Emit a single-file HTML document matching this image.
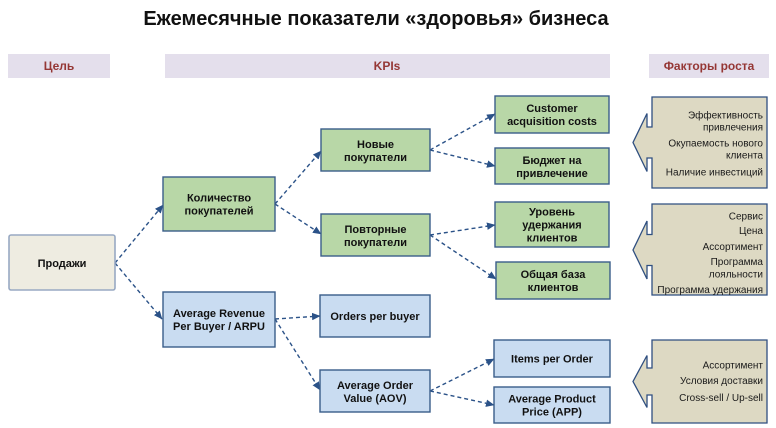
<!DOCTYPE html>
<html>
<head>
<meta charset="utf-8">
<style>
  html,body{margin:0;padding:0;background:#fff;}
  svg{display:block;}
  .t{font-family:"Liberation Sans",Arial,sans-serif;}
  .bx{font-family:"Liberation Sans",Arial,sans-serif;font-weight:bold;font-size:11px;fill:#111;text-anchor:middle;}
  .hd{font-family:"Liberation Sans",Arial,sans-serif;font-weight:bold;font-size:12px;fill:#953735;text-anchor:middle;}
  .co{font-family:"Liberation Sans",Arial,sans-serif;font-size:10px;fill:#1a1a1a;text-anchor:end;}
  .g{fill:#b8d7a7;stroke:#3a5d8a;stroke-width:1.4;}
  .b{fill:#c9dcf1;stroke:#3a5d8a;stroke-width:1.4;}
  .ln{stroke:#2b5288;stroke-width:1.4;stroke-dasharray:4 3;fill:none;marker-end:url(#ah);}
  .cl{fill:#ddd9c3;stroke:#2f4f80;stroke-width:1.3;}
</style>
</head>
<body>
<svg width="776" height="428" viewBox="0 0 776 428" xmlns="http://www.w3.org/2000/svg">
  <defs>
    <marker id="ah" markerUnits="userSpaceOnUse" markerWidth="9" markerHeight="8" refX="8" refY="3.75" orient="auto">
      <path d="M0,0 L8.5,3.75 L0,7.5 Z" fill="#2b5288"/>
    </marker>
  </defs>
  <rect x="0" y="0" width="776" height="428" fill="#fff"/>

  <!-- Title -->
  <text class="t" x="376" y="25" font-size="20" font-weight="bold" text-anchor="middle" fill="#111">Ежемесячные показатели «здоровья» бизнеса</text>

  <!-- Header bars -->
  <rect x="8" y="54" width="102" height="24" fill="#e4dfec"/>
  <text class="hd" x="59" y="70">Цель</text>
  <rect x="165" y="54" width="445" height="24" fill="#e4dfec"/>
  <text class="hd" x="387" y="70">KPIs</text>
  <rect x="649" y="54" width="120" height="24" fill="#e4dfec"/>
  <text class="hd" x="709" y="70">Факторы роста</text>

  <!-- Connectors -->
  <line class="ln" x1="115" y1="263" x2="163" y2="205"/>
  <line class="ln" x1="115" y1="263" x2="162" y2="319"/>
  <line class="ln" x1="275" y1="204" x2="321" y2="151"/>
  <line class="ln" x1="275" y1="204" x2="321" y2="234"/>
  <line class="ln" x1="430" y1="150" x2="495" y2="114"/>
  <line class="ln" x1="430" y1="150" x2="495" y2="166"/>
  <line class="ln" x1="430" y1="235" x2="495" y2="225"/>
  <line class="ln" x1="430" y1="235" x2="496" y2="279"/>
  <line class="ln" x1="275" y1="319" x2="320" y2="316"/>
  <line class="ln" x1="275" y1="319" x2="320" y2="390"/>
  <line class="ln" x1="430" y1="391" x2="494" y2="359"/>
  <line class="ln" x1="430" y1="391" x2="494" y2="405"/>

  <!-- Продажи -->
  <rect x="9" y="235" width="106" height="55" rx="2" fill="#eeece1" stroke="#98a9c3" stroke-width="1.6"/>
  <text class="bx" x="62" y="267">Продажи</text>

  <!-- Level 1 -->
  <rect class="g" x="163" y="177" width="112" height="54"/>
  <text class="bx" x="219" y="201.5">Количество</text>
  <text class="bx" x="219" y="214.5">покупателей</text>

  <rect class="b" x="163" y="292" width="112" height="55"/>
  <text class="bx" x="219" y="317">Average Revenue</text>
  <text class="bx" x="219" y="330">Per Buyer / ARPU</text>

  <!-- Level 2 -->
  <rect class="g" x="321" y="129" width="109" height="42"/>
  <text class="bx" x="375.5" y="148">Новые</text>
  <text class="bx" x="375.5" y="161">покупатели</text>

  <rect class="g" x="321" y="214" width="109" height="42"/>
  <text class="bx" x="375.5" y="233">Повторные</text>
  <text class="bx" x="375.5" y="246">покупатели</text>

  <rect class="b" x="320" y="295" width="110" height="42"/>
  <text class="bx" x="375" y="320">Orders per buyer</text>

  <rect class="b" x="320" y="370" width="110" height="42"/>
  <text class="bx" x="375" y="389">Average Order</text>
  <text class="bx" x="375" y="402">Value (AOV)</text>

  <!-- Level 3 -->
  <rect class="g" x="495" y="96" width="114" height="37"/>
  <text class="bx" x="552" y="112">Customer</text>
  <text class="bx" x="552" y="125">acquisition costs</text>

  <rect class="g" x="495" y="148" width="114" height="36"/>
  <text class="bx" x="552" y="164">Бюджет на</text>
  <text class="bx" x="552" y="177">привлечение</text>

  <rect class="g" x="495" y="202" width="114" height="45"/>
  <text class="bx" x="552" y="215.5">Уровень</text>
  <text class="bx" x="552" y="228.5">удержания</text>
  <text class="bx" x="552" y="241.5">клиентов</text>

  <rect class="g" x="496" y="262" width="114" height="37"/>
  <text class="bx" x="553" y="278">Общая база</text>
  <text class="bx" x="553" y="291">клиентов</text>

  <rect class="b" x="494" y="340" width="116" height="37"/>
  <text class="bx" x="552" y="362.5">Items per Order</text>

  <rect class="b" x="494" y="387" width="116" height="36"/>
  <text class="bx" x="552" y="402.5">Average Product</text>
  <text class="bx" x="552" y="415.5">Price (APP)</text>

  <!-- Callout 1 -->
  <path class="cl" d="M652,97 H767 V188 H652 V158 H647 V171.5 L633,142.5 L647,113.5 V127 H652 Z"/>
  <text class="co" x="763" y="118.5">Эффективность</text>
  <text class="co" x="763" y="130.5">привлечения</text>
  <text class="co" x="763" y="146.5">Окупаемость нового</text>
  <text class="co" x="763" y="158.5">клиента</text>
  <text class="co" x="763" y="175.5">Наличие инвестиций</text>

  <!-- Callout 2 -->
  <path class="cl" d="M652,204 H767 V295 H652 V265.5 H647 V279 L633,250 L647,221 V234.5 H652 Z"/>
  <text class="co" x="763" y="219.5">Сервис</text>
  <text class="co" x="763" y="234">Цена</text>
  <text class="co" x="763" y="250">Ассортимент</text>
  <text class="co" x="763" y="265">Программа</text>
  <text class="co" x="763" y="277.5">лояльности</text>
  <text class="co" x="763" y="293">Программа удержания</text>

  <!-- Callout 3 -->
  <path class="cl" d="M652,340 H767 V423 H652 V395 H647 V407.5 L633,381.5 L647,355.5 V368 H652 Z"/>
  <text class="co" x="763" y="368.5">Ассортимент</text>
  <text class="co" x="763" y="384">Условия доставки</text>
  <text class="co" x="763" y="401">Cross-sell / Up-sell</text>
</svg>
</body>
</html>
